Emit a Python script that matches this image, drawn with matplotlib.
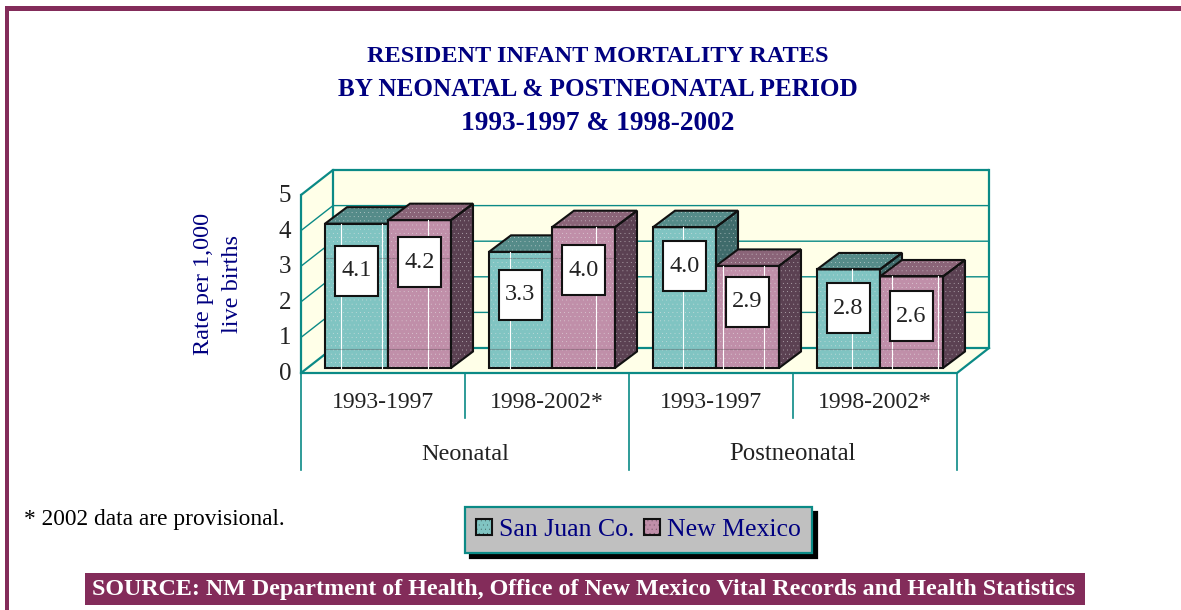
import matplotlib
matplotlib.use('Agg')
import matplotlib.pyplot as plt
from matplotlib.patches import Polygon, Rectangle, Patch
from matplotlib.transforms import ScaledTranslation

plt.rcParams['font.family'] = ['Liberation Serif', 'DejaVu Serif']
plt.rcParams['hatch.linewidth'] = 0.0

W, H = 1181, 610
NAVY = '#000080'
TEAL = '#0b8a86'
MAROON = '#832c5a'
INK = '#222222'

periods = ['1993-1997', '1998-2002*', '1993-1997', '1998-2002*']
groups = ['Neonatal', 'Postneonatal']
san_juan = [4.1, 3.3, 4.0, 2.8]
new_mexico = [4.2, 4.0, 2.9, 2.6]
yticks = [0, 1, 2, 3, 4, 5]
# how far below the bar top each value box sits, in pixels
drop_sj = [47, 43, 39, 39]
drop_nm = [42, 43, 36, 40]
# pale scan streaks in each bar face, as a fraction of bar width
streak_sj = [(0.25, 0.9), (0.34,), (0.48,), (0.56,)]
streak_nm = [(0.63,), (0.7,), (0.11, 0.76), (0.19, 0.92)]

sj_cols = ('#80c4c2', '#558b89', '#3f6b6b')
nm_cols = ('#c08fa9', '#8a6478', '#5b4152')
DOTS = '....'

fig = plt.figure(figsize=(W / 100, H / 100), dpi=100, facecolor='white')


def px_axes(left, right, top, bottom):
    return fig.add_axes([left / W, 1 - bottom / H, (right - left) / W, (bottom - top) / H])


# page furniture, in pixels
page = px_axes(0, W, 0, H)
page.set_xlim(0, W)
page.set_ylim(H, 0)
page.axis('off')
page.add_patch(Rectangle((5, 6), W, 4.5, color=MAROON, lw=0))
page.add_patch(Rectangle((5, 6), 4, H, color=MAROON, lw=0))
page.add_patch(Rectangle((85, 573), 1000, 32, color=MAROON, lw=0))
page.text(584, 590, 'SOURCE: NM Department of Health, Office of New Mexico Vital Records and Health Statistics',
          color='white', fontsize=17.3, fontweight='bold', ha='center', va='center')
page.text(24, 519, '* 2002 data are provisional.', color='black', fontsize=16.8, ha='left', va='center')
page.text(598, 62, 'RESIDENT INFANT MORTALITY RATES', color=NAVY, fontsize=17.5, fontweight='bold', ha='center', va='baseline')
page.text(598, 96, 'BY NEONATAL & POSTNEONATAL PERIOD', color=NAVY, fontsize=18.1, fontweight='bold', ha='center', va='baseline')
page.text(598, 130, '1993-1997 & 1998-2002', color=NAVY, fontsize=19.7, fontweight='bold', ha='center', va='baseline')

# frame: front plane of the 3d box
ax = px_axes(301, 957, 195, 373)
ax.set_xlim(0, 4)
ax.set_ylim(0, 5)
ax.patch.set_alpha(0)
for s in ax.spines.values():
    s.set_visible(False)
ax.set_yticks(yticks)
ax.tick_params(axis='y', length=0, labelsize=18, pad=7, colors=INK)
for t in ax.get_yticklabels():
    t.set_transform(t.get_transform() + ScaledTranslation(0, 1.5 / 100, fig.dpi_scale_trans))
ax.set_xticks([0.5, 1.5, 2.5, 3.5])
ax.set_xticklabels(periods)
ax.tick_params(axis='x', length=0, labelsize=17, pad=14, colors=INK)
ax.set_ylabel('Rate per 1,000\nlive births', fontsize=17.5, color=NAVY, labelpad=25.5, linespacing=1.55)

dx, dy = 32 / 164, 25 / 35.6
wall = '#ffffe8'
ax.add_patch(Polygon([(0, 0), (dx, dy), (dx, 5 + dy), (0, 5)], fc=wall, ec='none', clip_on=False))
ax.add_patch(Polygon([(dx, dy), (4 + dx, dy), (4 + dx, 5 + dy), (dx, 5 + dy)], fc=wall, ec='none', clip_on=False))
ax.add_patch(Polygon([(0, 0), (4, 0), (4 + dx, dy), (dx, dy)], fc=wall, ec='none', clip_on=False))
for k in yticks:
    lw = 1.6 if k in (0, 5) else 1.0
    ax.plot([0, dx, 4 + dx], [k, k + dy, k + dy], color=TEAL, lw=lw, clip_on=False, solid_capstyle='butt')
ax.plot([0, 0], [0, 5], color=TEAL, lw=1.6, clip_on=False)
ax.plot([dx, dx], [dy, 5 + dy], color=TEAL, lw=1.6, clip_on=False)
ax.plot([4 + dx, 4 + dx], [dy, 5 + dy], color=TEAL, lw=1.6, clip_on=False)
ax.plot([0, 4, 4 + dx], [0, 0, dy], color=TEAL, lw=1.6, clip_on=False)

# multi level category axis below the floor
pos_short, pos_long = -45 / 35.6, -97 / 35.6
for x in [1, 3]:
    ax.plot([x, x], [0, pos_short], color=TEAL, lw=1.2, clip_on=False)
for x in [0, 2, 4]:
    ax.plot([x, x], [0, pos_long], color=TEAL, lw=1.2, clip_on=False)
ax.text(1, -81.5 / 35.6, groups[0], fontsize=17.5, color=INK, ha='center', va='center')
ax.text(3, -81.5 / 35.6, groups[1], fontsize=17.8, color=INK, ha='center', va='center')

# bars sit on their own axes, set back a little from the front plane
bx = px_axes(301, 957, 192, 368)
bx.set_xlim(0, 4)
bx.set_ylim(0, 5)
bx.axis('off')
bx.patch.set_alpha(0)

bar_w = 63 / 164
bar_start = 24 / 164
ddx, ddy = 22 / 164, 16.5 / 35.2
box_w, box_h = 43 / 164, 50 / 35.2


def bar3d(x, v, cols, streaks):
    front = [(x, 0), (x + bar_w, 0), (x + bar_w, v), (x, v)]
    top = [(x, v), (x + bar_w, v), (x + bar_w + ddx, v + ddy), (x + ddx, v + ddy)]
    side = [(x + bar_w, 0), (x + bar_w + ddx, ddy), (x + bar_w + ddx, v + ddy), (x + bar_w, v)]
    for pts, c in [(side, cols[2]), (top, cols[1]), (front, cols[0])]:
        bx.add_patch(Polygon(pts, fc=c, ec='#e8e8e8', hatch=DOTS, lw=0, clip_on=False))
    for f in streaks:
        bx.plot([x + bar_w * f] * 2, [0, v], color='white', lw=0.8, clip_on=False)
    for pts in (side, top, front):
        bx.add_patch(Polygon(pts, fc='none', ec='#111111', lw=1.5, joinstyle='miter', clip_on=False))


def value_box(x, v, drop):
    y = v - drop / 35.2
    xc = x + bar_w / 2
    bx.add_patch(Rectangle((xc - box_w / 2, y - box_h / 2), box_w, box_h, fc='white', ec='#111111', lw=1.5,
                           zorder=5, clip_on=False))
    bx.text(xc, y, f'{v:.1f}', fontsize=17.5, color=INK, ha='center', va='center', zorder=6, clip_on=False)


for i in range(4):
    x0 = i + bar_start
    bar3d(x0, san_juan[i], sj_cols, streak_sj[i])
    bar3d(x0 + bar_w, new_mexico[i], nm_cols, streak_nm[i])
    # back wall lines bleed faintly through the bars
    for level in (3.13, 0.54):
        if level < min(san_juan[i], new_mexico[i]):
            bx.plot([x0, x0 + 2 * bar_w], [level, level], color='#3a2a30', lw=0.8, alpha=0.3, zorder=4, clip_on=False)
    value_box(x0, san_juan[i], drop_sj[i])
    value_box(x0 + bar_w, new_mexico[i], drop_nm[i])

handles = [Patch(fc=sj_cols[0], ec='#111111', hatch=DOTS, lw=1.5),
           Patch(fc=nm_cols[0], ec='#111111', hatch=DOTS, lw=1.5)]
leg = page.legend(handles, ['San Juan Co.', 'New Mexico'], ncol=2, fontsize=18.5, labelcolor=NAVY,
                  loc='center', bbox_to_anchor=(638.5 / W, 1 - 530 / H), bbox_transform=fig.transFigure,
                  fancybox=False, facecolor='#c0c0c0', edgecolor=TEAL, framealpha=1,
                  shadow={'color': 'black', 'alpha': 1, 'ox': 3.6, 'oy': -3.6},
                  handlelength=0.62, handleheight=0.62, handletextpad=0.25, columnspacing=0.4, borderpad=0.45)
leg.get_frame().set_linewidth(1.6)

fig.savefig('out.png', dpi=100)
